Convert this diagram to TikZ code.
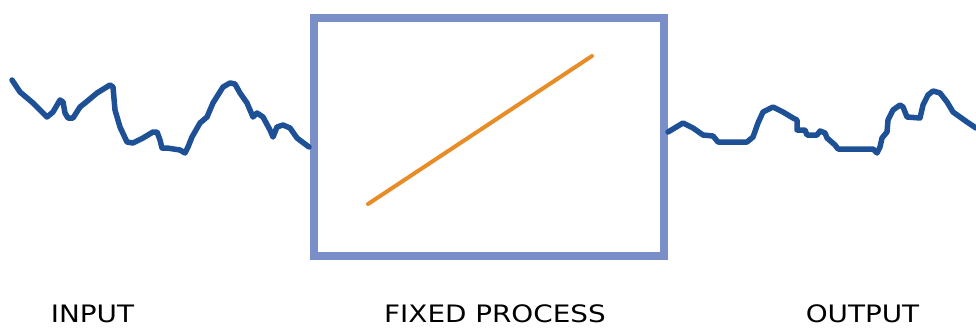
\documentclass[tikz,border=0pt]{standalone}
\usepackage{fontspec}
\setmainfont{DejaVu Sans}
\definecolor{boxblue}{RGB}{122,142,200}
\definecolor{waveblue}{RGB}{30,80,150}
\definecolor{lineorange}{RGB}{232,140,40}
\begin{document}
\begin{tikzpicture}[x=1pt,y=-1pt,
  wave/.style={draw=waveblue,line width=5.5pt,line join=round,line cap=round},
  procbox/.style={draw=boxblue,line width=8pt},
  label/.style={font=\fontsize{24}{28}\selectfont,inner sep=0pt,text depth=0pt,anchor=base,xscale=1.16,transform shape}]
\useasboundingbox (0,0) rectangle (976,327);
\draw[procbox] (313.5,17.5) rectangle (664,256);
\coordinate (ls) at (368,204);
\coordinate (le) at (592,56);
\draw[lineorange,line width=4pt,line cap=round] (ls) -- (le);
\draw[wave] (12,80) -- (20,92) -- (33,103) -- (47,117) -- (53,112) -- (60,100) -- (63,102) -- (65,113) -- (68,118) -- (73,118) -- (80,107) -- (85,103) -- (97,93) -- (110,85) -- (113,87) -- (115,110) -- (120,127) -- (127,142) -- (133,143) -- (143,138) -- (153,132) -- (157,132) -- (160,140) -- (162,148) -- (167,148) -- (180,150) -- (185,153) -- (188,147) -- (192,137) -- (200,123) -- (207,117) -- (213,103) -- (223,87) -- (230,83) -- (235,84) -- (240,93) -- (247,103) -- (253,117) -- (257,113) -- (263,117) -- (270,130) -- (273,137) -- (277,127) -- (283,125) -- (290,128) -- (297,138) -- (309,147);
\draw[wave] (668,132) -- (683,123) -- (693,128) -- (703,135) -- (713,136) -- (718,142) -- (747,142) -- (753,137) -- (758,123) -- (763,112) -- (773,107) -- (783,112) -- (793,118) -- (797,120) -- (797,130) -- (805,130) -- (807,135) -- (817,135) -- (820,131) -- (825,133) -- (827,138) -- (835,145) -- (838,149) -- (873,149) -- (877,153) -- (880,147) -- (882,138) -- (887,132) -- (888,120) -- (893,110) -- (900,105) -- (903,107) -- (907,117) -- (920,118) -- (923,105) -- (928,95) -- (933,91) -- (940,93) -- (947,102) -- (953,112) -- (960,117) -- (967,122) -- (976,128);
\node[label] (in) at (92.5,322) {INPUT};
\node[label] (proc) at (495,322) {FIXED PROCESS};
\node[label] (out) at (862.5,322) {OUTPUT};
\end{tikzpicture}
\end{document}
